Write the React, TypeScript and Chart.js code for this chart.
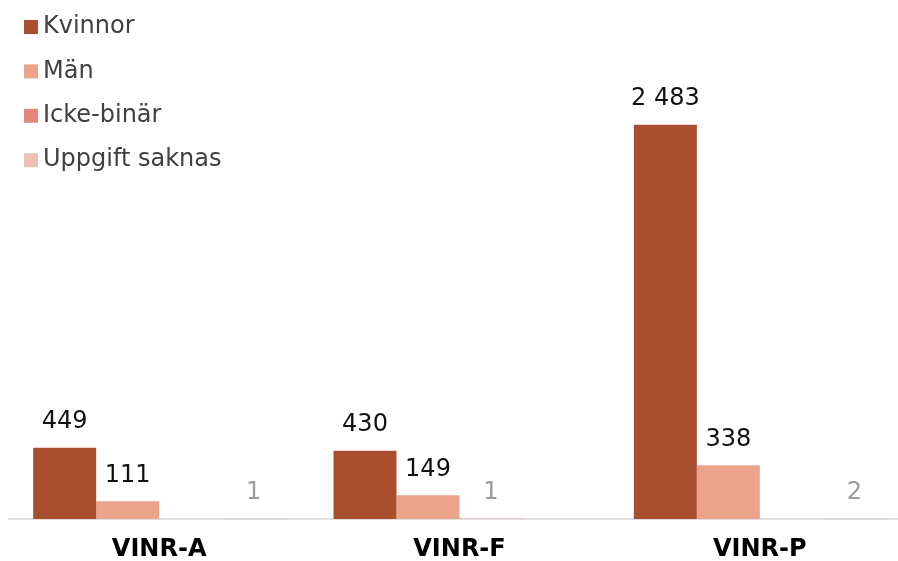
import React, { useEffect, useRef } from "react";
import { Chart, registerables } from "chart.js";

Chart.register(...registerables);

const categories = ["VINR-A", "VINR-F", "VINR-P"];
const seriesNames = ["Kvinnor", "Män", "Icke-binär", "Uppgift saknas"];
const kvinnor = [449, 430, 2483];
const man = [111, 149, 338];
const ickeBinar: (number | null)[] = [null, 1, null];
const uppgiftSaknas: (number | null)[] = [1, null, 2];
const yMax = 2500;

const FONT = "'DejaVu Sans', Verdana, sans-serif";

function fmt(v: number): string {
  return String(v).replace(/\B(?=(\d{3})+(?!\d))/g, " ");
}

const valueLabelPlugin = {
  id: "valueLabels",
  afterDatasetsDraw(chart: any) {
    const ctx = chart.ctx;
    ctx.save();
    ctx.font = `24px ${FONT}`;
    ctx.textAlign = "center";
    ctx.textBaseline = "middle";
    chart.data.datasets.forEach((ds: any, i: number) => {
      const meta = chart.getDatasetMeta(i);
      meta.data.forEach((el: any, j: number) => {
        const v = ds.data[j];
        if (v === null || v === undefined) return;
        ctx.fillStyle = ds.labelColor;
        ctx.fillText(fmt(v), el.x, el.y - 26);
      });
    });
    ctx.restore();
  },
};

const legendPlugin = {
  id: "customLegend",
  afterDraw(chart: any) {
    const ctx = chart.ctx;
    ctx.save();
    ctx.font = `24px ${FONT}`;
    ctx.textAlign = "left";
    ctx.textBaseline = "middle";
    chart.data.datasets.forEach((ds: any, i: number) => {
      const cy = 27 + i * 44.4;
      ctx.fillStyle = ds.backgroundColor;
      ctx.fillRect(24, cy - 7, 14, 14);
      ctx.fillStyle = "#404040";
      ctx.fillText(ds.label, 43, cy);
    });
    ctx.restore();
  },
};

export default function App() {
  const ref = useRef<HTMLCanvasElement | null>(null);
  useEffect(() => {
    if (!ref.current) return;
    const chart = new Chart(ref.current, {
      type: "bar",
      data: {
        labels: categories,
        datasets: [
          { label: seriesNames[0], data: kvinnor, backgroundColor: "#A94F30", labelColor: "#111111" } as any,
          { label: seriesNames[1], data: man, backgroundColor: "#E9A48B", labelColor: "#111111" } as any,
          { label: seriesNames[2], data: ickeBinar, backgroundColor: "#E1887A", labelColor: "#9a9a9a" } as any,
          { label: seriesNames[3], data: uppgiftSaknas, backgroundColor: "#EEBFB3", labelColor: "#9a9a9a" } as any,
        ],
      },
      options: {
        responsive: false,
        animation: false,
        devicePixelRatio: 1,
        layout: { padding: { top: 122, left: 9, right: 2, bottom: -20 } },
        datasets: { bar: { categoryPercentage: 0.839, barPercentage: 1 } },
        plugins: { legend: { display: false }, tooltip: { enabled: false } },
        scales: {
          x: {
            grid: { display: false, drawTicks: false },
            border: { display: true, color: "#e0e0e0", width: 2 },
            ticks: {
              color: "#000000",
              padding: 19,
              font: { family: FONT, size: 24, weight: "bold", lineHeight: 1 },
            },
          },
          y: {
            display: false,
            min: 0,
            max: yMax,
          },
        },
      } as any,
      plugins: [valueLabelPlugin, legendPlugin],
    });
    return () => chart.destroy();
  }, []);
  return (
    <div style={{ position: "fixed", left: 0, top: 0, width: 898, height: 561, overflow: "hidden", background: "#fff" }}>
      <canvas ref={ref} width={912} height={561} style={{ width: 912, height: 561, display: "block" }} />
    </div>
  );
}
